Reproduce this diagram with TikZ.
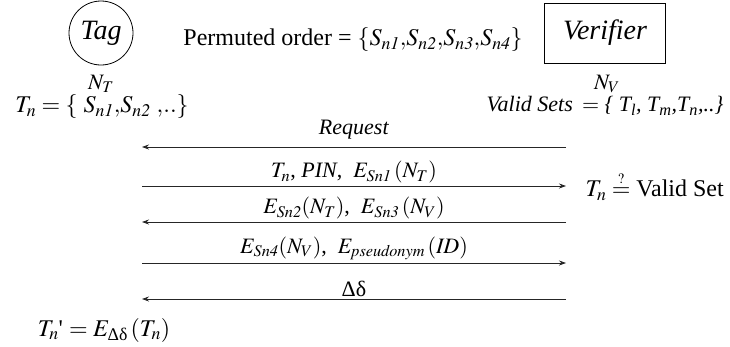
\documentclass[tikz,border=0pt]{standalone}
\usepackage{amsmath}
\usepackage{mathptmx}
\usepackage[no-math]{fontspec}
\setmainfont{Liberation Serif}
\usetikzlibrary{positioning, arrows.meta}

\tikzset{
  msg/.style={line width=0.8pt, draw=black!85, -{Stealth[length=7pt, width=5pt]}},
  txt/.style={font=\fontsize{22}{26}\selectfont},
  big/.style={font=\fontsize{24}{28}\selectfont},
  lbl/.style={txt, above=-1pt},
  party/.style={draw, line width=0.8pt, inner sep=0pt, font=\fontsize{28}{32}\selectfont\itshape},
}

\begin{document}
\begin{tikzpicture}[x=1pt, y=-1pt]
    \useasboundingbox (0,0) rectangle (730,346);
    % the two parties
    \node[party, circle, minimum size=64pt] (tag) at (101,33) {Tag};
    \node[party, minimum width=121pt, minimum height=60pt] (ver) at (605,33) {Verifier};
    \node[txt] (nt) at (101,84) {$N_T$};
    \node[txt] (nv) at (607,84) {$N_V$};
    \node[big] (perm) at (353,40) {Permuted order = $\{S_{\mathit{n1}}{,}S_{\mathit{n2}}{,}S_{\mathit{n3}}{,}S_{\mathit{n4}}\}$};
    \node[big] (tset) at (102,107) {$T_n = \{\ S_{\mathit{n1}}{,}S_{\mathit{n2}}\ {,}{.}{.}\}$};
    \node[txt] (vset) at (605,106) {\textit{Valid Sets}\ \,$=$ \textit{\{ T\textsubscript{l}, T\textsubscript{m},T\textsubscript{n},..\}}};
    % message lines
    \foreach \i/\y in {1/147,2/186,3/222,4/263,5/299} {
        \coordinate (l\i) at (142,\y);
        \coordinate (r\i) at (566,\y);
    }
    \node[txt] (req) at (354,130) {\textit{Request}};
    \draw[msg] (r1) -- (l1);
    \draw[msg] (l2) -- node[lbl] {$T_n$, \textit{PIN}, \ $E_{\mathit{Sn1}}\,(N_T)$} (r2);
    \draw[msg] (r3) -- node[lbl] {$E_{\mathit{Sn2}}(N_T)$, \ $E_{\mathit{Sn3}}\,(N_V)$} (l3);
    \draw[msg] (l4) -- node[lbl] {$E_{\mathit{Sn4}}(N_V)$, \ $E_{\mathit{pseudonym}}\,(\mathit{ID})$} (r4);
    \draw[msg] (r5) -- node[lbl] {Δδ} (l5);
    \node[big, right=16pt of r2] (chk) {$T_n \overset{\scriptscriptstyle ?}{=}$ Valid Set};
    \node[big] (upd) at (104,330) {$T_n$\textquotesingle\ $= E_{\text{Δδ}}\,(T_n)$};
\end{tikzpicture}
\end{document}
